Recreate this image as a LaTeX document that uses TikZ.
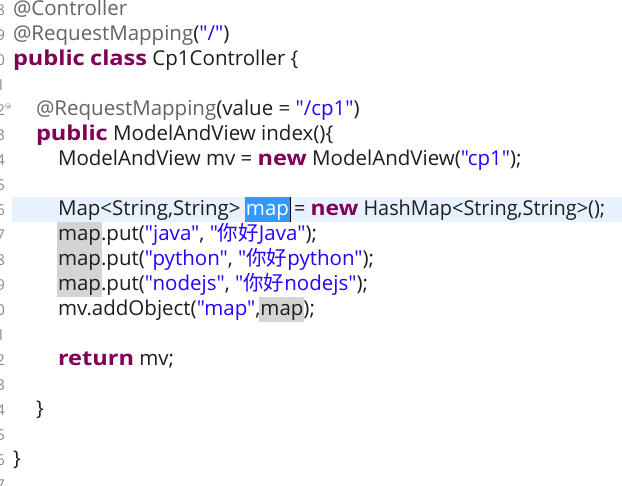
\documentclass[tikz,border=0pt]{standalone}
\usepackage{fontspec}
\usepackage{graphicx}
\setmainfont{Open Sans}[Ligatures=TeXOff]
\newfontfamily\kwfont{Open Sans}[Ligatures=TeXOff,FakeStretch=1.15]
\newfontfamily\cjk{Noto Sans CJK SC}
\usetikzlibrary{backgrounds}
\definecolor{kwc}{HTML}{7F0055}
\definecolor{annc}{HTML}{646464}
\definecolor{strc}{HTML}{2A00FF}
\definecolor{txtc}{HTML}{1E1E1E}
\definecolor{numc}{HTML}{8A8A8A}
\definecolor{curline}{HTML}{E8F2FE}
\definecolor{selc}{HTML}{3399FF}
\definecolor{occc}{HTML}{D4D4D4}
\newcommand\kw[1]{\textcolor{kwc}{\kwfont\bfseries #1}}
\newcommand\cann[1]{\textcolor{annc}{#1}}
\newcommand\cstr[1]{\textcolor{strc}{#1}}
\begin{document}
\begin{tikzpicture}[x=1pt,y=-1pt,
  code/.style={anchor=base west,inner sep=0pt,outer sep=0pt,text=txtc,font=\fontsize{20.5}{24}\selectfont},
  lnum/.style={anchor=base east,inner sep=0pt,outer sep=0pt,text=numc,font=\fontsize{15}{18}\selectfont},
  occ/.style={fill=occc},
]
\useasboundingbox (0,0) rectangle (622,486);
\clip (0,0) rectangle (622,486);
% line numbers (mostly cut off at the left edge)
\foreach \n [count=\i from 0] in {18,...,37}
  \node[lnum] (ln\n) at (5,16+25*\i) {\n};
\draw[numc!60, line width=0.8pt] (8,106) circle (2.5);
\draw[numc, line width=0.8pt] (6.5,106) -- (9.5,106);
% code
\coordinate (ytop1) at (0,197);
\coordinate (ybot1) at (0,222);
\node[code] (l18) at (13,16) {\cann{@Controller}};
\node[code] (l19) at (13,41) {\cann{@RequestMapping}(\cstr{"/"})};
\node[code] (l20) at (13,66) {\kw{public} \kw{class} Cp1Controller \{};
\node[code] (l22) at (36,116) {\cann{@RequestMapping}(value = \cstr{"/cp1"})};
\node[code] (l23) at (36,141) {\kw{public} ModelAndView index()\{};
\node[code] (l24) at (58,166) {ModelAndView mv = \kw{new} ModelAndView(\cstr{"cp1"});};
\node[code] (l26a) at (58,216) {Map<String,String>\ \null};
\node[code,text=white] (sel) at (l26a.base east) {map};
\node[code] (l26c) at (sel.base east) {\scalebox{0.97}[1]{\null\ = \kw{new} HashMap<String,String>();}};
\node[code] (m27) at (58,241) {map};
\node[code] (l27) at (m27.base east) {.put(\cstr{"java"}, \cstr{"{\cjk 你好}Java"});};
\node[code] (m28) at (58,266) {map};
\node[code] (l28) at (m28.base east) {.put(\cstr{"python"}, \cstr{"{\cjk 你好}python"});};
\node[code] (m29) at (58,291) {map};
\node[code] (l29) at (m29.base east) {.put(\cstr{"nodejs"}, \cstr{"{\cjk 你好}nodejs"});};
\node[code] (l30a) at (58,316) {mv.addObject(\cstr{"map"},};
\node[code] (m30) at (l30a.base east) {map};
\node[code] (l30c) at (m30.base east) {);};
\node[code] (l32) at (58,366) {\kw{return} mv;};
\node[code] (l34) at (36,416) {\}};
\node[code] (l36) at (13,466) {\}};
\coordinate (y222) at (0,222);
\coordinate (y297) at (0,297);
\coordinate (y322) at (0,322);
\begin{scope}[on background layer]
  \fill[white] (0,0) rectangle (622,486);
  \fill[curline] (12,197) rectangle (622,222);
  \fill[selc] ([xshift=-1pt]sel.west |- ytop1) rectangle ([xshift=1pt]sel.east |- ybot1);
  \fill[occ] ([xshift=-1pt]m27.west |- y222) rectangle ([xshift=1pt]m27.east |- y297);
  \fill[occ] ([xshift=-1pt]m30.west |- y297) rectangle ([xshift=1pt]m30.east |- y322);
\end{scope}
\draw[black, line width=1pt] ([xshift=1pt]sel.east |- ytop1) -- ([xshift=1pt]sel.east |- ybot1);
\end{tikzpicture}
\end{document}
